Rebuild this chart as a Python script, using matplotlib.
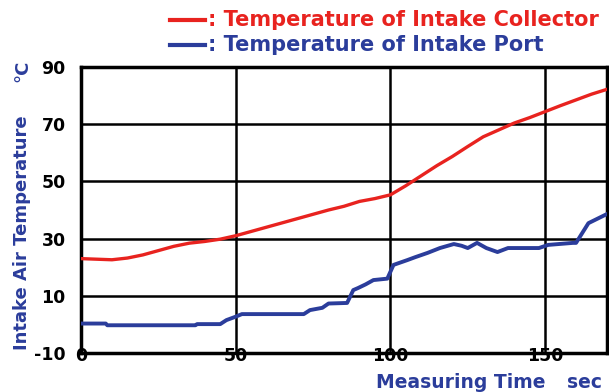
import matplotlib.pyplot as plt
from matplotlib.lines import Line2D

# data
t_red = [0, 5, 10, 15, 20, 25, 30, 35, 40, 45, 50, 55, 60, 65, 70, 75, 80, 85, 90,
         95, 100, 105, 110, 115, 120, 125, 130, 135, 140, 145, 150, 155, 160, 165, 170]
collector = [23, 22.8, 22.6, 23.2, 24.3, 25.8, 27.3, 28.4, 29, 29.8, 31, 32.5, 34, 35.5,
             37, 38.5, 40, 41.3, 43, 44, 45.3, 48.5, 52, 55.5, 58.7, 62.2, 65.6, 68,
             70.4, 72.3, 74.4, 76.5, 78.5, 80.5, 82.2]

t_blue = [0, 8, 8.5, 37, 37.5, 45, 47, 50, 52, 72, 74, 78, 80, 86, 88, 89.5, 92, 94.5,
          99, 101, 105.5, 108, 112, 116, 120.5, 123, 125, 128, 131, 134.6, 138, 148,
          151, 159, 160, 164, 167, 170]
port = [0.3, 0.3, -0.3, -0.3, 0.1, 0.1, 1.5, 2.7, 3.6, 3.6, 5, 5.8, 7.3, 7.5, 12,
        12.7, 14, 15.5, 16, 20.8, 22.5, 23.5, 25, 26.7, 28.1, 27.5, 26.7, 28.5, 26.7,
        25.3, 26.7, 26.7, 27.8, 28.5, 28.5, 35.4, 37, 38.6]

red = '#e8231f'
blue = '#2b3d9b'
plt.rcParams['font.family'] = ['DejaVu Sans']
plt.rcParams['font.weight'] = 'bold'
plt.rcParams['axes.unicode_minus'] = False

fig = plt.figure(figsize=(6.09, 3.92), dpi=100)
ax = fig.add_axes([81 / 609, 39 / 392, 526 / 609, 286 / 392])

ax.plot(t_red, collector, color=red, lw=2.4, zorder=3)
ax.plot(t_blue, port, color=blue, lw=2.8, zorder=3)

ax.set_xlim(0, 170)
ax.set_ylim(-10, 90)
ax.set_yticks([-10, 10, 30, 50, 70, 90])
ax.set_xticks([0, 50, 100, 150])
ax.grid(True, color='black', lw=1.8)
ax.tick_params(length=0, labelsize=12.5)
ax.tick_params(axis='y', pad=11)
ax.tick_params(axis='x', pad=-4)
for lbl in ax.get_xticklabels() + ax.get_yticklabels():
    lbl.set_fontweight('bold')
for s in ax.spines.values():
    s.set_linewidth(2.5)

fig.text(22 / 609, 1 - 71 / 392, '°C', color=blue, fontsize=13, fontweight='bold',
         rotation=90, ha='center', va='center')
fig.text(22 / 609, 1 - 233 / 392, 'Intake Air Temperature', color=blue, fontsize=13,
         fontweight='bold', rotation=90, ha='center', va='center')
fig.text(461 / 609, 1 - 383 / 392, 'Measuring Time', color=blue, fontsize=13.5,
         fontweight='bold', ha='center', va='center')
fig.text(584 / 609, 1 - 383 / 392, 'sec', color=blue, fontsize=13.5,
         fontweight='bold', ha='center', va='center')

# legend drawn by hand like the original
for y, c, txt in [(20, red, ': Temperature of Intake Collector'),
                  (45, blue, ': Temperature of Intake Port')]:
    yf = 1 - y / 392
    fig.add_artist(Line2D([170 / 609, 205 / 609], [yf, yf], color=c, lw=3))
    fig.text(208 / 609, yf, txt, color=c, fontsize=15, fontweight='bold',
             ha='left', va='center')

fig.savefig('out.png', dpi=100)
